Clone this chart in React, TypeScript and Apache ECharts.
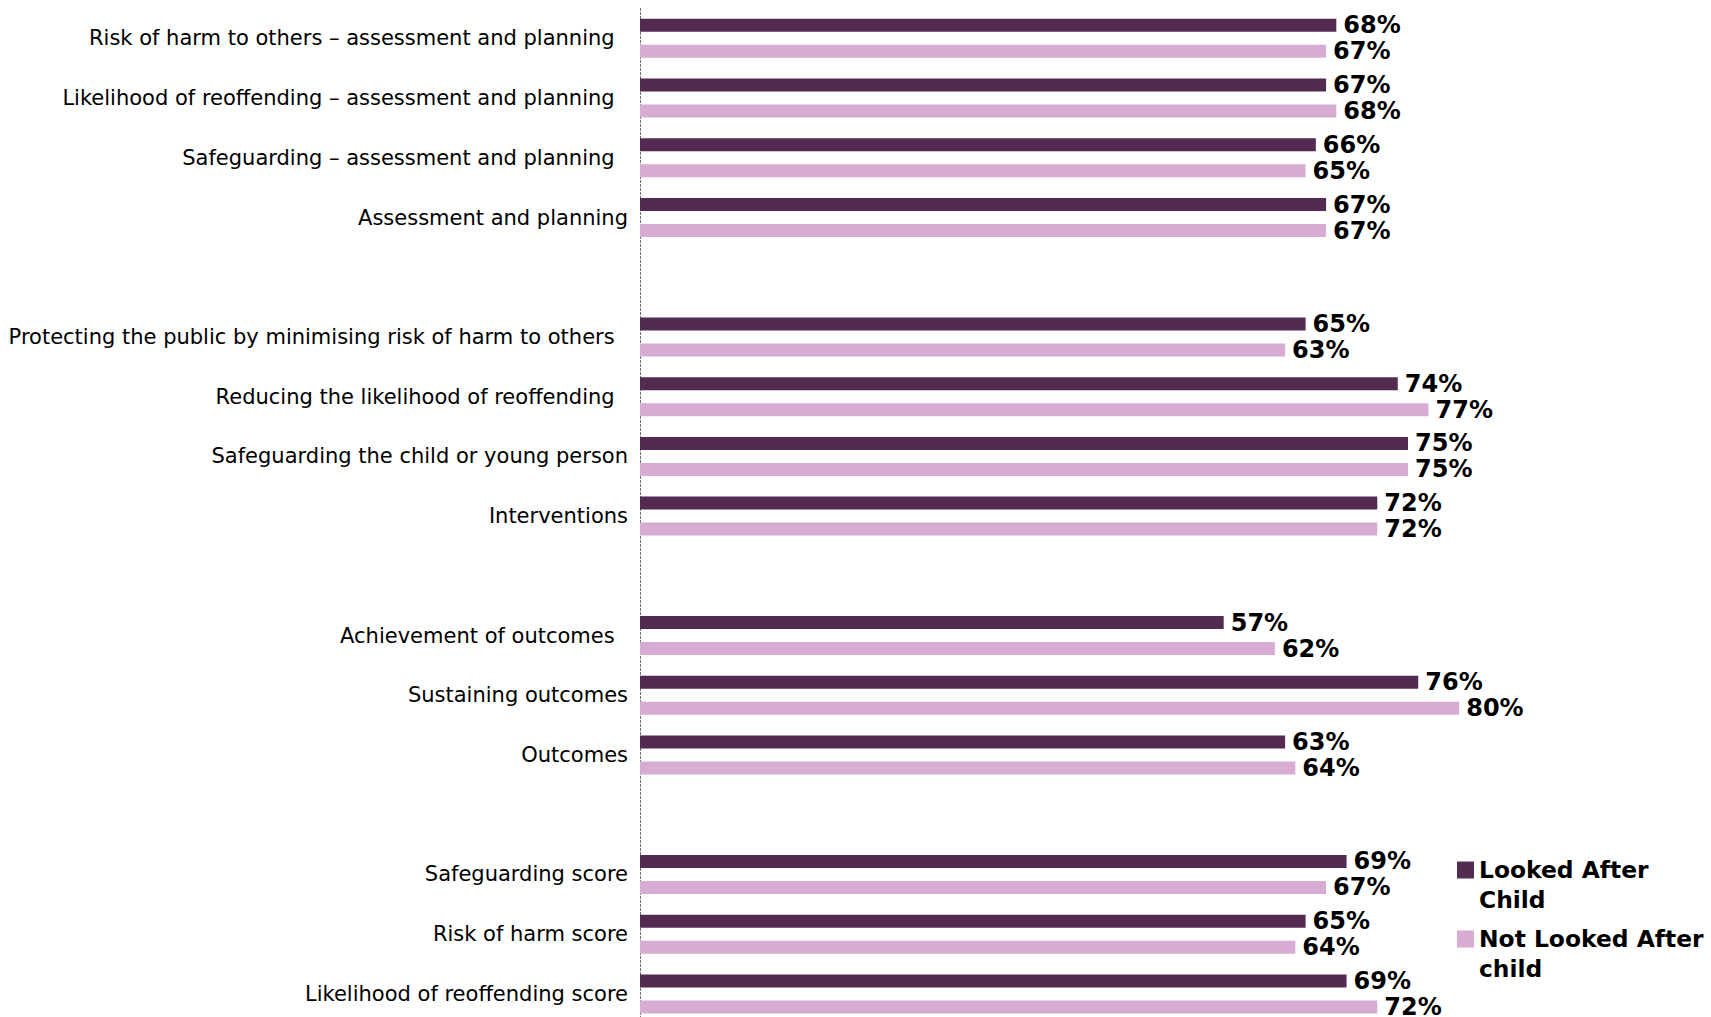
import React, { useEffect, useRef } from "react";
import * as echarts from "echarts";

const categories: string[] = [
  "Risk of harm to others – assessment and planning ",
  "Likelihood of reoffending – assessment and planning ",
  "Safeguarding – assessment and planning ",
  "Assessment and planning",
  " ",
  "Protecting the public by minimising risk of harm to others ",
  "Reducing the likelihood of reoffending ",
  "Safeguarding the child or young person",
  "Interventions",
  "  ",
  "Achievement of outcomes ",
  "Sustaining outcomes",
  "Outcomes",
  "   ",
  "Safeguarding score",
  "Risk of harm score",
  "Likelihood of reoffending score",
];

const lookedAfter: (number | null)[] = [68, 67, 66, 67, null, 65, 74, 75, 72, null, 57, 76, 63, null, 69, 65, 69];
const notLookedAfter: (number | null)[] = [67, 68, 65, 67, null, 63, 77, 75, 72, null, 62, 80, 64, null, 67, 64, 72];

const seriesNames = ["Looked After Child", "Not Looked After child"];
const colors = ["#532A50", "#D8ABD3"];

export default function App() {
  const ref = useRef<HTMLDivElement>(null);
  useEffect(() => {
    if (!ref.current) return;
    const chart = echarts.init(ref.current, null, { renderer: "svg" });
    const labelCfg = {
      show: true,
      position: "right",
      distance: 7,
      formatter: "{c}%",
      fontFamily: "DejaVu Sans",
      fontWeight: "bold",
      fontSize: 24,
      lineHeight: 20,
      color: "#000",
    };
    const legendFont = {
      fontFamily: "DejaVu Sans",
      fontWeight: "bold",
      fontSize: 23.4,
      lineHeight: 30,
      color: "#000",
    };
    chart.setOption({
      animation: false,
      backgroundColor: "#fff",
      grid: { left: 640, top: 8.5, width: 1024, height: 17 * 59.72, containLabel: false },
      xAxis: { type: "value", min: 0, max: 100, show: false },
      yAxis: {
        type: "category",
        inverse: true,
        data: categories,
        axisLine: { show: true, lineStyle: { color: "#666", width: 1, type: [2, 2] } },
        axisTick: { show: false },
        splitLine: { show: false },
        axisLabel: {
          margin: 12,
          fontFamily: "DejaVu Sans",
          fontSize: 21,
          color: "#000",
          padding: [2, 0, 0, 0],
          formatter: (v: string) => v.replace(/ $/, "\u00a0\u00a0"),
        },
      },
      legend: {
        orient: "vertical",
        left: 1457,
        top: 825,
        padding: 0,
        itemWidth: 17,
        itemHeight: 17,
        itemGap: -21,
        icon: "rect",
        data: seriesNames,
        formatter: (name: string) => {
          const m = name.match(/^(.*) (\S+)$/);
          const a = m ? m[1] : name;
          const b = m ? m[2] : "";
          return "{e|\u00a0}\n{t|" + a + "}\n{t|" + b + "}";
        },
        textStyle: {
          ...legendFont,
          rich: {
            e: { ...legendFont },
            t: { ...legendFont },
          },
        },
      },
      series: [
        {
          name: seriesNames[0],
          type: "bar",
          data: lookedAfter,
          barWidth: 13,
          barGap: "100%",
          itemStyle: { color: colors[0] },
          label: labelCfg,
        },
        {
          name: seriesNames[1],
          type: "bar",
          data: notLookedAfter,
          barWidth: 13,
          itemStyle: { color: colors[1] },
          label: labelCfg,
        },
      ],
    });
    return () => chart.dispose();
  }, []);
  return (
    <div
      ref={ref}
      style={{ position: "fixed", left: 0, top: 0, width: 1711, height: 1030 }}
    />
  );
}
